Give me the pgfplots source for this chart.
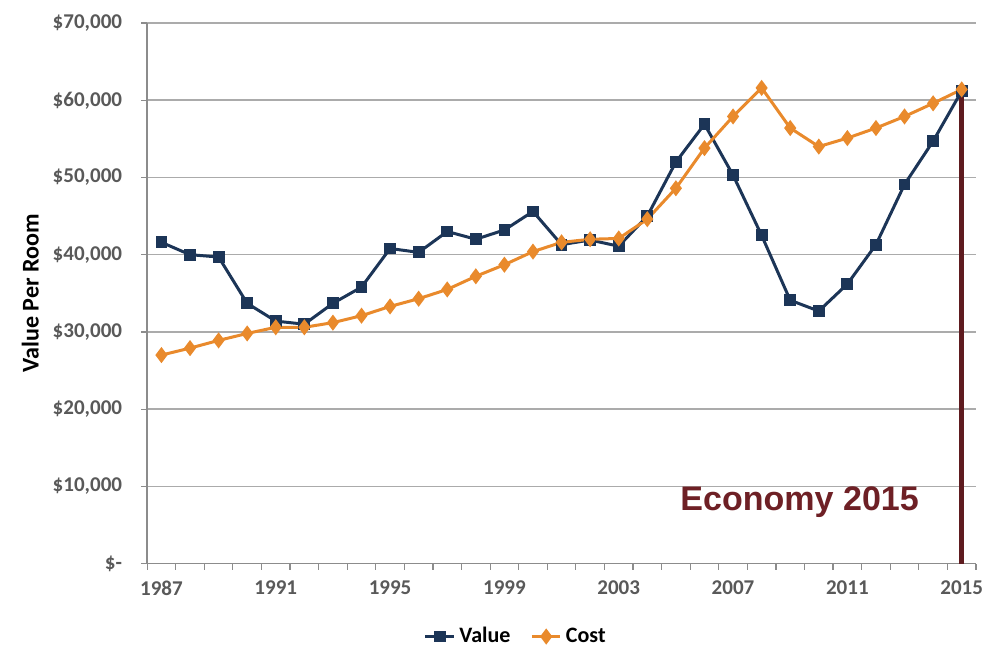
\documentclass[border=0pt]{standalone}
\usepackage{pgfplots}
\usepackage{pgfplotstable}
\pgfplotsset{compat=1.18}
\usepackage{fontspec}
\setmainfont{Carlito}
\newfontfamily\arialfont{Liberation Sans}

\definecolor{valuecol}{HTML}{1C3557}
\definecolor{costcol}{HTML}{E98A2C}
\definecolor{econline}{HTML}{5E1B1F}
\definecolor{econtext}{HTML}{6E2025}
\definecolor{gridcol}{HTML}{ABABAB}
\definecolor{axiscol}{HTML}{8C8C8C}
\definecolor{ticktext}{HTML}{595959}

% Value per room and replacement cost per room, 1987-2015
\pgfplotstableread{
year value
1987 41600
1988 40000
1989 39700
1990 33700
1991 31400
1992 31000
1993 33700
1994 35800
1995 40800
1996 40300
1997 43000
1998 42000
1999 43200
2000 45600
2001 41300
2002 41900
2003 41100
2004 45000
2005 52000
2006 56900
2007 50300
2008 42500
2009 34100
2010 32700
2011 36200
2012 41300
2013 49100
2014 54700
2015 61200
}\valuetable

\pgfplotstableread{
year cost
1987 27000
1988 27900
1989 28900
1990 29800
1991 30600
1992 30600
1993 31200
1994 32100
1995 33300
1996 34300
1997 35500
1998 37200
1999 38700
2000 40400
2001 41600
2002 42000
2003 42100
2004 44600
2005 48600
2006 53800
2007 57900
2008 61600
2009 56400
2010 54000
2011 55100
2012 56400
2013 57900
2014 59600
2015 61400
}\costtable

\begin{document}
\begin{tikzpicture}
\begin{axis}[
  width=414pt, height=270pt, scale only axis,
  xmin=1986.5, xmax=2015.5,
  ymin=0, ymax=70000,
  scaled y ticks=false,
  axis lines*=left,
  axis line style={axiscol, line width=0.8pt},
  tick pos=left,
  tick align=outside,
  major tick length=3pt,
  tick style={axiscol, line width=0.6pt},
  xtick={1986.5,1987.5,...,2015.5},
  xticklabels={},
  extra x ticks={1987,1991,1995,1999,2003,2007,2011,2015},
  extra x tick labels={1987,1991,1995,1999,2003,2007,2011,2015},
  extra x tick style={major tick length=0pt, grid=none,
    xticklabel style={yshift=-5pt}},
  ytick={0,10000,20000,30000,40000,50000,60000,70000},
  yticklabels={{\$-\hspace{6pt}},{\$10,000},{\$20,000},{\$30,000},{\$40,000},{\$50,000},{\$60,000},{\$70,000}},
  yticklabel style={xshift=-6pt},
  ymajorgrids,
  grid style={gridcol, line width=0.75pt},
  tick label style={font=\bfseries\fontsize{10.5}{12}\selectfont, text=ticktext},
  ylabel={Value Per Room},
  ylabel style={at={(axis description cs:-0.141,0.5)}, anchor=center,
    font=\bfseries\fontsize{12}{14}\selectfont},
  legend style={draw=none, at={(0.446,-0.135)}, anchor=center,
    legend columns=2, font=\bfseries\fontsize{11}{13}\selectfont,
    /tikz/every even column/.append style={column sep=8pt},
    inner sep=0pt},
  legend image code/.code={%
    \draw[mark repeat=2, mark phase=2] plot coordinates {(0cm,0cm) (0.25cm,0cm) (0.5cm,0cm)};},
  clip=false,
]
% 2015 marker line
\addplot[econline, line width=2.6pt, forget plot] coordinates {(2015,0) (2015,61400)};

\addplot[valuecol, line width=1.5pt, mark=square*, mark size=2.2pt,
  mark options={solid}] table[x=year, y=value] {\valuetable};
\addlegendentry{Value}

\addplot[costcol, line width=1.5pt, mark=diamond*, mark size=2.8pt,
  mark options={solid}] table[x=year, y=cost] {\costtable};
\addlegendentry{Cost}

\node[font=\arialfont\bfseries\fontsize{17}{20}\selectfont, text=econtext, anchor=base]
  at (axis cs:2009.33,6870) {Economy 2015};
\end{axis}
\pgfresetboundingbox
\path ([shift={(-73.5pt,-43pt)}]current axis.south west)
  rectangle ([shift={(3pt,11.5pt)}]current axis.north east);
\end{tikzpicture}
\end{document}
